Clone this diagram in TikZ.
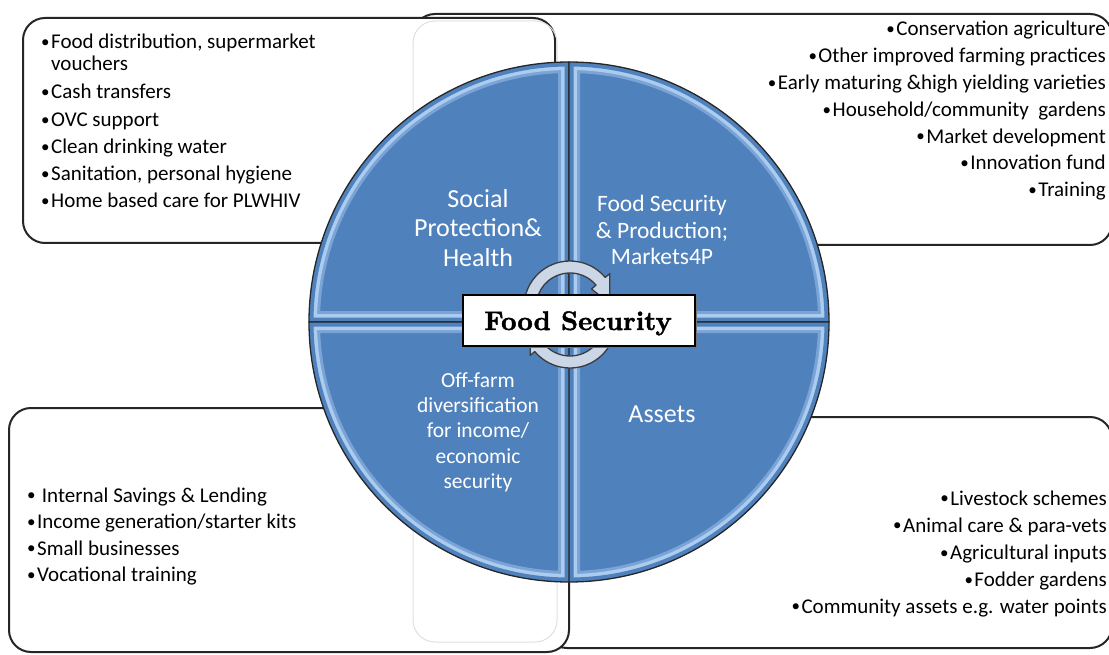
\documentclass[tikz,border=0pt]{standalone}
\usepackage{fontspec}
\newfontfamily\calibri{Carlito}
\newfontfamily\fsfont{lmroman10-bold.otf}[FakeBold=1.6]
\usetikzlibrary{calc}
\definecolor{qblue}{HTML}{4F81BD}
\definecolor{qlight}{HTML}{ABCBEF}
\definecolor{qmid}{HTML}{7BA4D6}
\definecolor{boxline}{HTML}{262626}
\definecolor{faint}{HTML}{E0E0E0}
\definecolor{arrowfill}{HTML}{CBD6E6}
\definecolor{arrowline}{HTML}{3C3C3C}
\newcommand\bul{\raisebox{1.2pt}{\fontsize{17}{17}\selectfont•}\hspace{1.5pt}}
\begin{document}
\begin{tikzpicture}[x=1pt,y=-1pt,
 listbox/.style={draw=boxline, line width=2pt, rounded corners=22pt, fill=white},
 faintbox/.style={draw=faint, line width=1pt, rounded corners=22pt},
 item/.style={inner sep=0pt, font=\calibri\fontsize{21}{25}\selectfont},
 itemL/.style={item, anchor=base west},
 itemR/.style={item, anchor=base east},
 qlabel/.style={inner sep=0pt, anchor=base, text=white},
 qbig/.style={qlabel, font=\calibri\fontsize{26}{30}\selectfont},
 qsmall/.style={qlabel, font=\calibri\fontsize{23.5}{27}\selectfont},
 qoff/.style={qlabel, font=\calibri\fontsize{21.5}{25}\selectfont},
 cyclearrow/.style={fill=arrowfill, draw=arrowline, line width=1.3pt, line join=round},
]
\useasboundingbox (0,0) rectangle (1109,655);

% list boxes
\draw[listbox] (413,14) rectangle (1112,245);
\draw[listbox] (23,18) rectangle (555,243);
\draw[listbox] (545,417) rectangle (1112,648);
\draw[listbox] (9,408) rectangle (569,652);
\draw[faintbox] (413,21) rectangle (557,642);

% quadrant disc
\coordinate (C) at (569,322);
\foreach \a/\b in {180/270, 270/360, 0/90, 90/180} {
  \begin{scope}
    \clip (C) -- ++(\a:260) arc[start angle=\a, end angle=\b, radius=260] -- cycle;
    \fill[qblue] (C) circle[radius=262];
    \draw[qmid, line width=22pt] (C) -- ++(\a:260) arc[start angle=\a, end angle=\b, radius=260] -- cycle;
    \draw[qlight, line width=16pt] (C) -- ++(\a:260) arc[start angle=\a, end angle=\b, radius=260] -- cycle;
    \draw[qblue, line width=9pt] (C) -- ++(\a:260) arc[start angle=\a, end angle=\b, radius=260] -- cycle;
  \end{scope}
  \draw[black!85, line width=1.3pt, line join=round] (C) -- ++(\a:260) arc[start angle=\a, end angle=\b, radius=260] -- cycle;
}

% quadrant labels
\node[qbig] (sp1) at (478,208) {Social};
\node[qbig] (sp2) at (478,237) {Protection\&};
\node[qbig] (sp3) at (478,266) {Health};
\node[qsmall] (fp1) at (662,212) {Food Security};
\node[qsmall] (fp2) at (662,238.5) {\& Production;};
\node[qsmall] (fp3) at (662,265) {Markets4P};
\node[qoff] (of1) at (478,387) {Off-farm};
\node[qoff] (of2) at (478,412) {diversification};
\node[qoff] (of3) at (478,437.5) {for income/};
\node[qoff] (of4) at (478,463) {economic};
\node[qoff] (of5) at (478,488) {security};
\node[qbig] (as) at (662,422) {Assets};

% cycle arrows
\coordinate (ca) at (570,307);
\coordinate (cb) at (570,322);
\draw[cyclearrow] ($(ca)+(-168:46)$) arc[start angle=-168, end angle=-40, radius=46]
  -- ($(ca)+(-40:52)$) -- ($(ca)+(-5:40)$) -- ($(ca)+(-40:28)$) -- ($(ca)+(-40:34)$)
  arc[start angle=-40, end angle=-168, radius=34] -- cycle;
\draw[cyclearrow] ($(cb)+(12:46)$) arc[start angle=12, end angle=140, radius=46]
  -- ($(cb)+(140:52)$) -- ($(cb)+(175:40)$) -- ($(cb)+(140:28)$) -- ($(cb)+(140:34)$)
  arc[start angle=140, end angle=12, radius=34] -- cycle;

% centre box
\fill[black!55] (466,298) rectangle (697,348);
\node[draw=black, line width=1.5pt, fill=white, minimum width=232pt, minimum height=51pt, inner sep=0pt] (fsbox) at (579,320.5) {};
\node[inner sep=0pt, anchor=base, font=\fsfont\fontsize{26.8}{30}\selectfont] (fstext) at (578,330) {Food Security};

% top-left list
\node[itemL] (tl1) at (41,48.3) {\bul Food distribution, supermarket};
\node[itemL] (tl1b) at (41,70.7) {\phantom{\bul}vouchers};
\node[itemL] (tl2) at (41,99) {\bul Cash transfers};
\node[itemL] (tl3) at (41,126.3) {\bul OVC support};
\node[itemL] (tl4) at (41,153.5) {\bul Clean drinking water};
\node[itemL] (tl5) at (41,180.8) {\bul Sanitation, personal hygiene};
\node[itemL] (tl6) at (41,208) {\bul Home based care for PLWHIV};

% top-right list
\node[itemR] (tr1) at (1106,36) {\bul Conservation agriculture};
\node[itemR] (tr2) at (1106,62.8) {\bul Other improved farming practices};
\node[itemR] (tr3) at (1106,89.6) {\bul Early maturing \&high yielding varieties};
\node[itemR] (tr4) at (1106,116.4) {\bul Household/community\ \ gardens};
\node[itemR] (tr5) at (1106,143.2) {\bul Market development};
\node[itemR] (tr6) at (1106,170) {\bul Innovation fund};
\node[itemR] (tr7) at (1106,196.8) {\bul Training};

% bottom-left list
\node[itemL] (bl1) at (27,502) {\bul\ Internal Savings \& Lending};
\node[itemL] (bl2) at (27,528.5) {\bul Income generation/starter kits};
\node[itemL] (bl3) at (27,555) {\bul Small businesses};
\node[itemL] (bl4) at (27,581.5) {\bul Vocational training};

% bottom-right list
\node[itemR] (br1) at (1107,505) {\bul Livestock schemes};
\node[itemR] (br2) at (1107,532) {\bul Animal care \& para-vets};
\node[itemR] (br3) at (1107,559.5) {\bul Agricultural inputs};
\node[itemR] (br4) at (1107,586.5) {\bul Fodder gardens};
\node[itemR] (br5) at (1107,613) {\bul Community assets e.g. water points};
\end{tikzpicture}
\end{document}
